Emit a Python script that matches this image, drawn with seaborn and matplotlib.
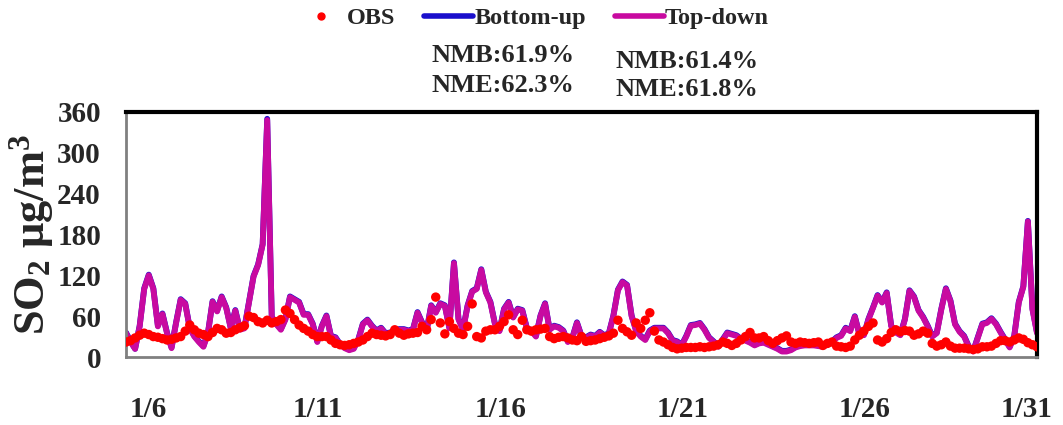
import numpy as np
import pandas as pd
import matplotlib
matplotlib.use("Agg")
import matplotlib.pyplot as plt
import matplotlib.transforms as mtransforms
from matplotlib.lines import Line2D
import seaborn as sns

# ---------------- data (3-hourly, starting 1/6 00:00) ----------------
hours = np.arange(0, 601, 3)

top_down = [
    35, 22, 12, 45, 100, 120, 100, 45,
    63, 35, 13, 50, 84, 78, 42, 30,
    22, 15, 35, 81, 67, 88, 72, 42,
    68, 40, 42, 80, 118, 135, 165, 348,
    58, 48, 40, 55, 88, 84, 80, 62,
    62, 48, 22, 45, 60, 30, 28, 18,
    13, 10, 12, 25, 48, 54, 45, 38,
    42, 34, 35, 39, 40, 40, 38, 40,
    65, 50, 38, 75, 65, 78, 75, 42,
    138, 55, 40, 75, 96, 100, 128, 95,
    80, 48, 38, 70, 80, 58, 70, 68,
    42, 38, 30, 60, 78, 40, 45, 43,
    38, 22, 28, 50, 30, 28, 32, 30,
    36, 31, 34, 60, 98, 110, 105, 60,
    38, 30, 25, 38, 42, 42, 42, 35,
    24, 22, 17, 30, 46, 47, 49, 40,
    28, 22, 15, 25, 35, 33, 31, 26,
    24, 21, 17, 20, 21, 18, 15, 12,
    8, 8, 10, 14, 16, 17, 17, 17,
    16, 15, 18, 22, 28, 31, 42, 38,
    59, 33, 32, 55, 72, 90, 80, 94,
    45, 36, 32, 55, 97, 88, 68, 58,
    45, 30, 35, 70, 100, 82, 48, 37,
    30, 15, 8, 28, 48, 50, 56, 48,
    36, 25, 14, 30, 80, 103, 199, 70,
    35,
]

bottom_up = [
    36, 23, 12, 46, 101, 121, 101, 46,
    64, 36, 14, 51, 85, 79, 43, 31,
    23, 16, 36, 82, 68, 89, 73, 43,
    69, 41, 43, 81, 119, 136, 166, 350,
    59, 49, 41, 56, 89, 85, 81, 63,
    63, 49, 23, 46, 61, 31, 29, 19,
    14, 11, 13, 26, 49, 55, 46, 39,
    43, 35, 36, 40, 41, 41, 39, 41,
    66, 51, 39, 76, 66, 79, 76, 43,
    139, 56, 41, 76, 97, 101, 129, 96,
    81, 49, 39, 71, 81, 59, 71, 69,
    43, 39, 31, 61, 79, 41, 46, 44,
    39, 23, 29, 51, 31, 29, 33, 31,
    37, 32, 35, 61, 99, 111, 106, 61,
    39, 31, 26, 39, 43, 43, 43, 36,
    25, 23, 18, 31, 47, 48, 50, 41,
    29, 23, 16, 26, 36, 34, 32, 27,
    25, 22, 18, 21, 22, 19, 16, 13,
    9, 9, 11, 15, 17, 18, 18, 18,
    17, 16, 19, 23, 29, 32, 43, 39,
    60, 34, 33, 56, 73, 91, 81, 95,
    46, 37, 33, 56, 98, 89, 69, 59,
    46, 31, 36, 71, 101, 83, 49, 38,
    31, 16, 9, 29, 49, 51, 57, 49,
    37, 26, 15, 31, 81, 104, 200, 71,
    36,
]

obs = [
    22, 24, 28, 32, 35, 33, 30, 29,
    27, 25, 26, 28, 30, 38, 47, 40,
    35, 33, 30, 36, 42, 40, 35, 36,
    40, 43, 46, 60, 58, 52, 50, 54,
    50, 52, 55, 69, 64, 55, 47, 42,
    38, 33, 30, 30, 30, 25, 20, 18,
    17, 18, 20, 22, 25, 30, 35, 33,
    32, 31, 33, 40, 35, 32, 34, 35,
    36, 45, 40, 55, 88, 50, 34, 52,
    42, 35, 33, 45, 78, 30, 28, 38,
    40, 40, 45, 52, 62, 40, 33, 54,
    40, 38, 40, 41, 42, 30, 27, 29,
    30, 28, 25, 24, 30, 23, 24, 25,
    27, 29, 31, 35, 54, 42, 37, 32,
    50, 42, 54, 65, 38, 25, 22, 18,
    14, 12, 13, 14, 14, 14, 15, 14,
    15, 16, 18, 22, 20, 17, 20, 25,
    30, 36, 28, 28, 30, 24, 20, 24,
    28, 31, 22, 20, 22, 21, 20, 21,
    22, 17, 20, 22, 16, 15, 14, 16,
    25, 32, 38, 45, 50, 25, 22, 27,
    36, 40, 37, 39, 38, 32, 34, 38,
    35, 20, 16, 18, 22, 16, 13, 13,
    13, 12, 11, 12, 15, 15, 16, 20,
    24, 24, 22, 25, 28, 26, 21, 18,
    15,
]

tick_days = [0, 5, 10, 15, 20, 25]
tick_labels = ["1/6", "1/11", "1/16", "1/21", "1/26", "1/31"]
y_ticks = [0, 60, 120, 180, 240, 300, 360]

stats_bu = ["NMB:61.9%", "NME:62.3%"]
stats_td = ["NMB:61.4%", "NME:61.8%"]

# ---------------- style ----------------
sns.set_style("white")
plt.rcParams["font.family"] = ["Liberation Serif", "DejaVu Serif"]
plt.rcParams["font.weight"] = "bold"
plt.rcParams["mathtext.default"] = "regular"

C_OBS = "#FF0000"
C_BU = "#1A0FCC"
C_TD = "#C80AA0"

df = pd.DataFrame({
    "day": hours / 24.0,
    "Bottom-up": bottom_up,
    "Top-down": top_down,
    "OBS": obs,
})

fig = plt.figure(figsize=(10.63, 4.25), dpi=100)
ax = fig.add_axes([126 / 1063, 68 / 425, 911 / 1063, 245 / 425])

sns.lineplot(data=df, x="day", y="Bottom-up", ax=ax, color=C_BU, linewidth=4.2, legend=False)
sns.lineplot(data=df, x="day", y="Top-down", ax=ax, color=C_TD, linewidth=4.2, legend=False)
sns.scatterplot(data=df, x="day", y="OBS", ax=ax, color=C_OBS, s=46, edgecolor="none", legend=False, zorder=5)

ax.set_xlim(0, 25)
ax.set_ylim(0, 360)
ax.set_xticks(tick_days)
ax.set_xticklabels(tick_labels, fontsize=21, fontweight="bold")
ax.set_yticks(y_ticks)
ax.set_yticklabels([str(v) for v in y_ticks], fontsize=21, fontweight="bold")
ax.tick_params(axis="x", direction="out", length=7, width=1.5, color="#808080", pad=21)
ax.tick_params(axis="y", direction="out", length=6, width=1.5, color="#808080", pad=12)
x_shift_px = [22, 10, 10, 10, 10, -10]
for lab, dx in zip(ax.get_xticklabels(), x_shift_px):
    off = mtransforms.ScaledTranslation(dx / 100, 0, fig.dpi_scale_trans)
    lab.set_transform(lab.get_transform() + off)

ax.set_xlabel("")
ax.set_ylabel(r"SO$_2$ μg/m$^3$", fontsize=32, fontweight="bold", labelpad=1)

for side in ["left", "bottom"]:
    ax.spines[side].set_color("#808080")
    ax.spines[side].set_linewidth(2)
for side in ["top", "right"]:
    ax.spines[side].set_color("#000000")
    ax.spines[side].set_linewidth(3)
    ax.spines[side].set_visible(True)

handles = [
    Line2D([], [], color=C_OBS, marker="o", linestyle="none", markersize=5),
    Line2D([], [], color=C_BU, linewidth=4),
    Line2D([], [], color=C_TD, linewidth=4),
]
fig.legend(handles, ["OBS", "Bottom-up", "Top-down"], loc="center",
           bbox_to_anchor=(533 / 1063, 1 - 18 / 425), ncol=3, frameon=False,
           prop={"family": "Liberation Serif", "weight": "bold", "size": 17.5},
           handlelength=2.0, handletextpad=0.05, columnspacing=1.2)

fig.text(432 / 1063, 1 - 55 / 425, stats_bu[0], fontsize=19, fontweight="bold", va="center", ha="left")
fig.text(432 / 1063, 1 - 85 / 425, stats_bu[1], fontsize=19, fontweight="bold", va="center", ha="left")
fig.text(615 / 1063, 1 - 62 / 425, stats_td[0], fontsize=19, fontweight="bold", va="center", ha="left")
fig.text(615 / 1063, 1 - 90 / 425, stats_td[1], fontsize=19, fontweight="bold", va="center", ha="left")

fig.savefig("out.png", dpi=100)
